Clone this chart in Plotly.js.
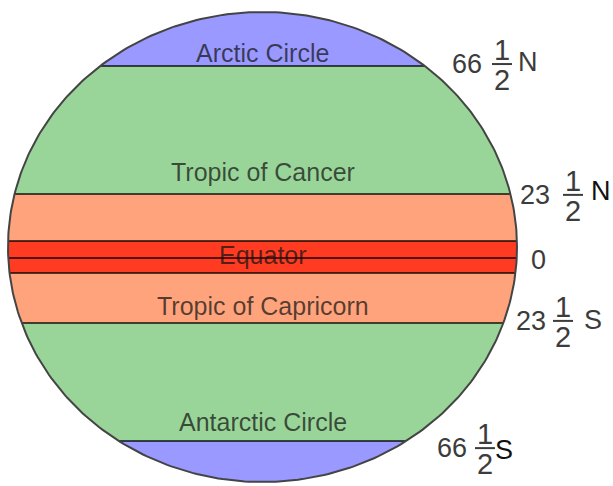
<!DOCTYPE html>
<html>
<head>
<meta charset="utf-8">
<script src="https://cdn.plot.ly/plotly-3.0.1.min.js"></script>
<style>html,body{margin:0;padding:0;background:#fff;}#chart{width:613px;height:486px;}</style>
</head>
<body>
<div id="chart"></div>
<script>
// ---- DATA (diagram units: circle radius = 1, up = north) ----
const zoneNames = ['Arctic Circle', 'Tropic of Cancer', 'Equator', 'Tropic of Capricorn', 'Antarctic Circle'];
const circleLevels = [0.770, 0.226, -0.047, -0.323, -0.826];
const equatorBandEdges = [0.026, -0.111];
const bandEdges = [1.0, 0.770, 0.226, 0.026, -0.047, -0.111, -0.323, -0.826, -1.0];
const latWhole = ['66', '23', '0', '23', '66'];
const latHasHalf = [true, true, false, true, true];
const latHemi = ['N', 'N', '', 'S', 'S'];

// ---- STYLE / LAYOUT ----
const bandColors = ['#9999ff', '#99d599', '#fea37b', '#ff3b22', '#ff3b22', '#fea37b', '#99d599', '#9999ff'];
const W = 613, H = 486;
const CX = 262.5, RA = 254.5, CY = 247, RB = 235;
const px2x = p => (p - CX) / RA;
const py2y = p => (CY - p) / RB;
const y2py = y => CY - y * RB;
const zoneLabelShift = [13, 22, 3, 17, 19];
const wholeXpx = [467, 535, 538, 531, 452];
const wholeYoff = [-2, 1, 2, -2, 7];
const fracXpx = [502, 573, 0, 563, 485];
const hemiXpx = [528, 601, 0, 593, 504];
const hemiYoff = [-2, -4, 0, -1, 2];
const labelFont = 'Liberation Sans, Arial, sans-serif';
const textGray = '#3c3c3c';

const traces = [];
function arcPts(yTop, yBot, n) {
  const t0 = Math.asin(yTop), t1 = Math.asin(yBot);
  const xs = [], ys = [];
  for (let i = 0; i <= n; i++) { const t = t0 + (t1 - t0) * i / n; xs.push(Math.cos(t)); ys.push(Math.sin(t)); }
  for (let i = n; i >= 0; i--) { const t = t0 + (t1 - t0) * i / n; xs.push(-Math.cos(t)); ys.push(Math.sin(t)); }
  xs.push(xs[0]); ys.push(ys[0]);
  return {xs, ys};
}
for (let i = 0; i < bandEdges.length - 1; i++) {
  const p = arcPts(bandEdges[i], bandEdges[i + 1], 80);
  traces.push({type: 'scatter', mode: 'lines', x: p.xs, y: p.ys, fill: 'toself',
    fillcolor: bandColors[i], line: {width: 0, color: bandColors[i]}, hoverinfo: 'skip'});
}
const allLines = circleLevels.concat(equatorBandEdges);
allLines.forEach(y => {
  const hw = Math.sqrt(1 - y * y);
  traces.push({type: 'scatter', mode: 'lines', x: [-hw, hw], y: [y, y],
    line: {color: 'rgba(0,0,0,0.68)', width: 2}, hoverinfo: 'skip'});
});
const ox = [], oy = [];
for (let i = 0; i <= 360; i++) { const t = i * Math.PI / 180; ox.push(Math.cos(t)); oy.push(Math.sin(t)); }
traces.push({type: 'scatter', mode: 'lines', x: ox, y: oy, line: {color: '#444', width: 2}, hoverinfo: 'skip'});

const annotations = [];
const shapes = [];
zoneNames.forEach((name, i) => {
  annotations.push({x: 0, y: circleLevels[i], xref: 'x', yref: 'y', text: name, showarrow: false,
    yshift: zoneLabelShift[i], xanchor: 'center', yanchor: 'middle',
    font: {family: labelFont, size: 25, color: 'rgba(20,20,20,0.72)'}});
});
latWhole.forEach((w, i) => {
  const lineY = circleLevels[i];
  const cyPx = y2py(lineY) + wholeYoff[i];
  annotations.push({x: px2x(wholeXpx[i]), y: py2y(cyPx), text: w, showarrow: false,
    xanchor: 'center', yanchor: 'middle', font: {family: labelFont, size: 27, color: textGray}});
  if (latHasHalf[i]) {
    const fx = px2x(fracXpx[i]);
    annotations.push({x: fx, y: py2y(cyPx - 14), text: '1', showarrow: false,
      xanchor: 'center', yanchor: 'middle', font: {family: labelFont, size: 29, color: textGray}});
    annotations.push({x: fx, y: py2y(cyPx + 16), text: '2', showarrow: false,
      xanchor: 'center', yanchor: 'middle', font: {family: labelFont, size: 29, color: textGray}});
    shapes.push({type: 'line', xref: 'x', yref: 'y', x0: px2x(fracXpx[i] - 10), x1: px2x(fracXpx[i] + 10),
      y0: py2y(cyPx), y1: py2y(cyPx), line: {color: textGray, width: 2}});
  }
  if (latHemi[i]) {
    annotations.push({x: px2x(hemiXpx[i]), y: py2y(cyPx + hemiYoff[i]), text: latHemi[i], showarrow: false,
      xanchor: 'center', yanchor: 'middle', font: {family: labelFont, size: 27, color: i === 4 || i === 1 ? '#111' : textGray}});
  }
});

const layout = {
  width: W, height: H, autosize: false,
  margin: {l: 0, r: 0, t: 0, b: 0, pad: 0},
  paper_bgcolor: '#fff', plot_bgcolor: '#fff',
  showlegend: false,
  xaxis: {range: [px2x(0), px2x(W)], visible: false, fixedrange: true},
  yaxis: {range: [py2y(H), py2y(0)], visible: false, fixedrange: true},
  annotations, shapes
};
Plotly.newPlot('chart', traces, layout, {staticPlot: true, displayModeBar: false});
</script>
</body>
</html>
